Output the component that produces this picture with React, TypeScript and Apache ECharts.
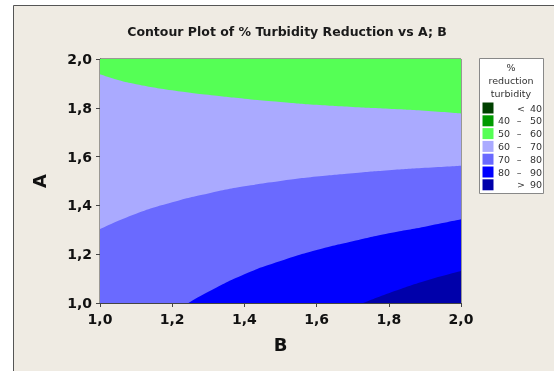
import React, { useEffect, useRef } from "react";
import * as echarts from "echarts";

// Contour boundaries, each as [B, A] pairs
const topEdge: number[][] = [[1.0, 2.0], [2.0, 2.0]]; // 50–60 band reaches the top
const boundary60: number[][] = [
  [1.0, 1.937], [1.05, 1.914], [1.1, 1.897], [1.2, 1.872], [1.3, 1.853], [1.4, 1.837],
  [1.5, 1.824], [1.6, 1.812], [1.7, 1.803], [1.8, 1.796], [1.9, 1.788], [2.0, 1.777],
];
const boundary70: number[][] = [
  [1.0, 1.303], [1.1, 1.366], [1.2, 1.413], [1.3, 1.449], [1.4, 1.478], [1.5, 1.5],
  [1.6, 1.518], [1.7, 1.532], [1.8, 1.544], [1.9, 1.554], [2.0, 1.563],
];
const boundary80: number[][] = [
  [1.245, 1.0], [1.3, 1.046], [1.4, 1.118], [1.5, 1.172], [1.6, 1.217],
  [1.7, 1.253], [1.8, 1.286], [1.9, 1.313], [2.0, 1.343],
];
const boundary90: number[][] = [
  [1.729, 1.0], [1.8, 1.04], [1.9, 1.09], [2.0, 1.131],
];

const bandNames = ["50 – 60", "60 – 70", "70 – 80", "80 – 90", "> 90"];
const bandColors = ["#55ff55", "#aaaaff", "#6a6aff", "#0000ff", "#0000aa"];
const bandData = [topEdge, boundary60, boundary70, boundary80, boundary90];

// Legend rows
const legendLow = ["", "40", "50", "60", "70", "80", ""];
const legendSym = ["<", "–", "–", "–", "–", "–", ">"];
const legendHigh = ["40", "50", "60", "70", "80", "90", "90"];
const legendColors = ["#004000", "#009a00", "#55ff55", "#aaaaff", "#6a6aff", "#0000ff", "#0000aa"];
const legendTitle = ["%", "reduction", "turbidity"];

const axisTicks = [1.0, 1.2, 1.4, 1.6, 1.8, 2.0];

const FONT = "DejaVu Sans";

export default function App() {
  const ref = useRef<HTMLDivElement>(null);
  useEffect(() => {
    if (!ref.current) return;
    const chart = echarts.init(ref.current, undefined, { renderer: "svg" });
    const fmt = (v: number) => v.toFixed(1).replace(".", ",");
    const axisCommon = {
      type: "value" as const,
      min: axisTicks[0],
      max: axisTicks[axisTicks.length - 1],
      interval: 0.2,
      axisLine: { show: true, lineStyle: { color: "#444", width: 1 } },
      axisTick: { show: true, length: 4, lineStyle: { color: "#444" } },
      splitLine: { show: false },
      axisLabel: {
        formatter: fmt,
        fontFamily: FONT,
        fontWeight: "bold" as const,
        fontSize: 14,
        color: "#111",
      },
      nameTextStyle: { fontFamily: FONT, fontWeight: "bold" as const, fontSize: 18, color: "#111" },
    };

    const graphics: any[] = [
      {
        type: "rect",
        z: -10,
        silent: true,
        shape: { x: 13.5, y: 5.5, width: 600, height: 400 },
        style: { fill: "#efebe3", stroke: "#555", lineWidth: 1 },
      },
      {
        type: "rect",
        z: 1,
        shape: { x: 479.5, y: 58.5, width: 64, height: 135 },
        style: { fill: "#ffffff", stroke: "#888", lineWidth: 1 },
      },
    ];
    legendTitle.forEach((t, i) => {
      graphics.push({
        type: "text",
        z: 2,
        x: 511,
        y: 67 + i * 13,
        style: {
          text: t, fontFamily: FONT, fontSize: 9.5, fill: "#333",
          align: "center", verticalAlign: "middle",
        },
      });
    });
    legendColors.forEach((c, i) => {
      const cy = 108 + i * 12.8;
      graphics.push({
        type: "rect",
        z: 2,
        shape: { x: 482.5, y: cy - 5.5, width: 11, height: 11 },
        style: { fill: c },
      });
      const ts = { fontFamily: FONT, fontSize: 9.5, fill: "#333", verticalAlign: "middle" };
      if (legendLow[i]) {
        graphics.push({ type: "text", z: 2, x: 510, y: cy, style: { ...ts, text: legendLow[i], align: "right" } });
      }
      graphics.push({ type: "text", z: 2, x: legendSym[i] === "–" ? 519 : 521, y: cy, style: { ...ts, text: legendSym[i], align: "center" } });
      graphics.push({ type: "text", z: 2, x: 542, y: cy, style: { ...ts, text: legendHigh[i], align: "right" } });
    });

    chart.setOption({
      animation: false,
      backgroundColor: "transparent",
      title: {
        text: "Contour Plot of % Turbidity Reduction vs A; B",
        left: 282,
        top: 20,
        textAlign: "center",
        textStyle: { fontFamily: FONT, fontWeight: "bold", fontSize: 12.5, color: "#1a1a1a" },
      },
      grid: {
        left: 100, top: 59, width: 361, height: 244,
        show: true, borderColor: "#444", borderWidth: 1, backgroundColor: "transparent",
      },
      xAxis: {
        ...axisCommon,
        name: "B",
        nameLocation: "middle",
        nameGap: 32,
        axisLabel: { ...axisCommon.axisLabel, margin: 9 },
      },
      yAxis: {
        ...axisCommon,
        name: "A",
        nameLocation: "middle",
        nameGap: 52,
        nameRotate: 90,
        axisLabel: { ...axisCommon.axisLabel, margin: 8 },
      },
      graphic: graphics,
      series: bandData.map((d, i) => ({
        type: "line",
        name: bandNames[i],
        data: d,
        smooth: 0.5,
        showSymbol: false,
        silent: true,
        lineStyle: { width: 0, opacity: 0 },
        areaStyle: { color: bandColors[i], opacity: 1, origin: "start" },
        z: 2 + i,
      })),
    });
    return () => chart.dispose();
  }, []);
  return (
    <div
      ref={ref}
      style={{ position: "fixed", left: 0, top: 0, width: 554, height: 371 }}
    />
  );
}
